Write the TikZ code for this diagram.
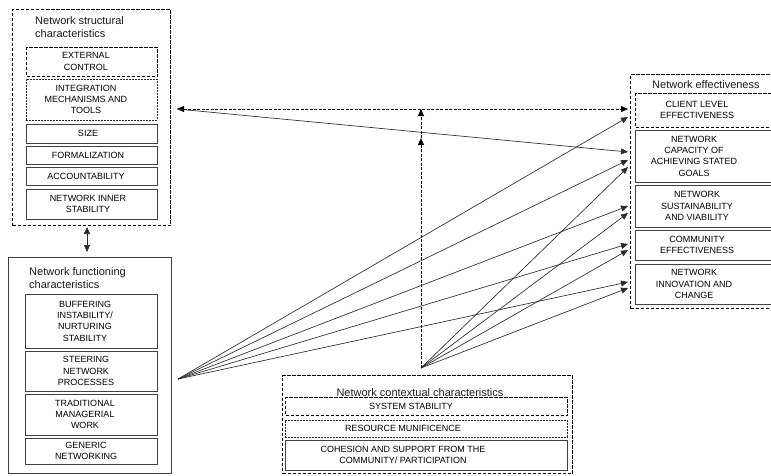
\documentclass[tikz,border=0pt]{standalone}
\usepackage{fontspec}
\setmainfont{Liberation Sans}
\usetikzlibrary{arrows.meta}
\definecolor{ln}{HTML}{2A2A2A}
\definecolor{bx}{HTML}{404040}
\tikzset{
  boxs/.style={draw=bx, line width=0.85pt, inner sep=0pt, anchor=north west},
  boxd/.style={draw=black, line width=1pt, dash pattern=on 3.5pt off 1.5pt, inner sep=0pt, anchor=north west},
  boxf/.style={draw=black!85, line width=0.75pt, dash pattern=on 2pt off 1pt, inner sep=0pt, anchor=north west},
  captxt/.style={font=\fontsize{9}{11.3}\selectfont, align=center, inner sep=0pt, text=black},
  ttl/.style={font=\fontsize{11}{13}\selectfont, align=left, inner sep=0pt, text=black!90},
  tip/.style={-{Triangle[length=7pt,width=6pt]}},
  conn/.style={draw=ln, line width=0.65pt, tip},
  dconn/.style={draw=black, line width=1pt, dash pattern=on 3pt off 1.5pt, tip},
}
\begin{document}
\begin{tikzpicture}[x=1pt,y=-1pt]
\useasboundingbox (0,0) rectangle (771,475);
% Structural
\node[boxd, minimum width=158pt, minimum height=216pt] (S) at (12,9) {};
\node[ttl, anchor=west] (St) at (35,27) {Network structural\\characteristics};
\node[boxd, minimum width=131pt, minimum height=29pt] (ext) at (26,47) {};
\node[captxt] (extT) at (86,61.5) {EXTERNAL\\CONTROL};
\node[boxf, minimum width=131pt, minimum height=41pt] (integ) at (26,79) {};
\node[captxt] (integT) at (86,99.5) {INTEGRATION\\MECHANISMS AND\\TOOLS};
\node[boxs, minimum width=131pt, minimum height=19pt] (size) at (26,124) {};
\node[captxt] (sizeT) at (88,133.5) {SIZE};
\node[boxs, minimum width=131pt, minimum height=18pt] (form) at (26,146) {};
\node[captxt] (formT) at (88,155) {FORMALIZATION};
\node[boxs, minimum width=131pt, minimum height=18pt] (acc) at (26,167) {};
\node[captxt] (accT) at (86,176) {ACCOUNTABILITY};
\node[boxs, minimum width=131pt, minimum height=30pt] (inner) at (26,189) {};
\node[captxt] (innerT) at (88,204) {NETWORK INNER\\STABILITY};
% Functioning
\node[boxs, minimum width=163pt, minimum height=216pt] (F) at (8,257) {};
\node[ttl, anchor=west] (Ft) at (29,278) {Network functioning\\characteristics};
\node[boxs, minimum width=132pt, minimum height=54pt] (buf) at (25,294) {};
\node[captxt] (bufT) at (85,321) {BUFFERING\\INSTABILITY/\\NURTURING\\STABILITY};
\node[boxs, minimum width=132pt, minimum height=40pt] (steer) at (25,351) {};
\node[captxt] (steerT) at (86,371) {STEERING\\NETWORK\\PROCESSES};
\node[boxs, minimum width=132pt, minimum height=41pt] (trad) at (25,394) {};
\node[captxt] (tradT) at (85,414.5) {TRADITIONAL\\MANAGERIAL\\WORK};
\node[boxs, minimum width=132pt, minimum height=26pt] (gen) at (25,438) {};
\node[captxt] (genT) at (86,451) {GENERIC\\NETWORKING};
% Effectiveness
\node[boxd, minimum width=150pt, minimum height=234pt] (E) at (630,74) {};
\node[ttl, anchor=west] (Et) at (652,85) {Network effectiveness};
\node[boxd, minimum width=141pt, minimum height=34pt] (client) at (635,93) {};
\node[captxt] (clientT) at (697,110) {CLIENT LEVEL\\EFFECTIVENESS};
\node[boxs, minimum width=141pt, minimum height=52pt] (capb) at (635,130) {};
\node[captxt] (capT) at (694,156) {NETWORK\\CAPACITY OF\\ACHIEVING STATED\\GOALS};
\node[boxs, minimum width=141pt, minimum height=42pt] (sust) at (635,185) {};
\node[captxt] (sustT) at (697,206) {NETWORK\\SUSTAINABILITY\\AND VIABILITY};
\node[boxs, minimum width=141pt, minimum height=30pt] (comm) at (635,230) {};
\node[captxt] (commT) at (697,245) {COMMUNITY\\EFFECTIVENESS};
\node[boxs, minimum width=141pt, minimum height=40pt] (innov) at (635,264) {};
\node[captxt] (innovT) at (694,284) {NETWORK\\INNOVATION AND\\CHANGE};
% Contextual
\node[boxd, minimum width=290pt, minimum height=98pt] (C) at (282,375) {};
\node[ttl] (Ct) at (420,393) {Network contextual characteristics};
\node[boxd, minimum width=282pt, minimum height=18pt] (sys) at (285,397) {};
\node[captxt] (sysT) at (411,406) {SYSTEM STABILITY};
\node[boxf, minimum width=282pt, minimum height=17pt] (res) at (285,420) {};
\node[captxt] (resT) at (403,428.5) {RESOURCE MUNIFICENCE};
\node[boxs, minimum width=282pt, minimum height=30pt] (coh) at (285,440) {};
\node[captxt] (cohT) at (403,455) {COHESION AND SUPPORT FROM THE\\COMMUNITY/ PARTICIPATION};
% Connector end points
\coordinate (f1) at (178,379);
\coordinate (f2) at (421,368);
\coordinate (sL) at (177,109);
\coordinate (eD) at (628,109);
\coordinate (m1) at (421,138);
\coordinate (m0) at (421,109);
\coordinate (t117) at (628,117);
\coordinate (t152) at (628,152);
\coordinate (t160) at (628,160);
\coordinate (t167) at (628,167);
\coordinate (t206) at (628,206);
\coordinate (t213) at (628,213);
\coordinate (t244) at (628,244);
\coordinate (t250) at (628,250);
\coordinate (t282) at (628,282);
\coordinate (t288) at (628,288);
\coordinate (ud1) at (87,227);
\coordinate (ud2) at (87,252);
% Connectors
\draw[conn, {Triangle[length=7pt,width=6pt]}-{Triangle[length=7pt,width=6pt]}] (ud1) -- (ud2);
\draw[dconn, {Triangle[length=7pt,width=6pt]}-{Triangle[length=7pt,width=6pt]}] (sL) -- (eD);
\draw[conn] (sL) -- (t152);
\draw[dconn] (f2) -- (m1);
\draw[dconn] (m1) -- (m0);
\foreach \t in {t117,t160,t206,t244,t282} \draw[conn] (f1) -- (\t);
\foreach \t in {t167,t213,t250,t288} \draw[conn] (f2) -- (\t);
\end{tikzpicture}
\end{document}
